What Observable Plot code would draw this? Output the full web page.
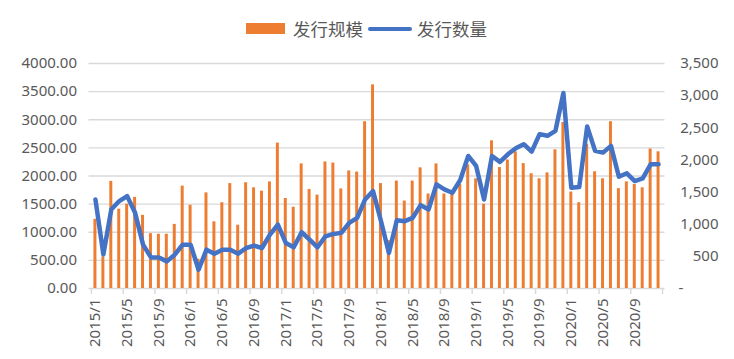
<!DOCTYPE html>
<html><head><meta charset="utf-8">
<script src="https://cdn.jsdelivr.net/npm/d3@7"></script>
<script src="https://cdn.jsdelivr.net/npm/@observablehq/plot@0.6"></script>
<style>
body{margin:0;background:#fff;}
#legend{position:relative;width:734px;height:45px;font-family:"Noto Sans CJK SC","Noto Sans",sans-serif;color:#595959;font-size:17.5px;}
#legend .sw{position:absolute;}
#legend .tx{position:absolute;top:18px;line-height:22px;white-space:nowrap;}
</style></head><body>
<div id="legend">
  <div class="sw" style="left:246px;top:23px;width:39px;height:11px;background:#ED7D31"></div>
  <div class="tx" style="left:293px">发行规模</div>
  <div class="sw" style="left:368px;top:26.5px;width:44px;height:4.5px;border-radius:2px;background:#4472C4"></div>
  <div class="tx" style="left:417px">发行数量</div>
</div>
<div id="chart"></div>
<script>
const years = [2015, 2016, 2017, 2018, 2019, 2020];
const months = [1, 2, 3, 4, 5, 6, 7, 8, 9, 10, 11, 12];
const categories = years.flatMap(y => months.map(m => `${y}/${m}`));

// 发行规模 (left axis)
const issueSize = [
  1230, 560, 1905, 1410, 1500, 1620, 1300, 975, 965, 965, 1140, 1820,
  1480, 520, 1700, 1185, 1525, 1865, 1125, 1880, 1790, 1730, 1895, 2585,
  1600, 1445, 2215, 1760, 1660, 2250, 2230, 1770, 2090, 2070, 2965, 3620,
  1865, 850, 1910, 1555, 1910, 2145, 1680, 2215, 1680, 1700, 1850, 2200,
  1950, 1500, 2625, 2150, 2285, 2430, 2220, 2040, 1950, 2055, 2465, 2950,
  1715, 1525, 2565, 2075, 1950, 2965, 1775, 1895, 1850, 1790, 2480, 2430
];
// 发行数量 (right axis)
const issueCount = [
  1385, 530, 1230, 1360, 1437, 1177, 682, 484, 484, 422, 526, 682,
  682, 292, 604, 542, 604, 604, 542, 630, 667, 630, 838, 995,
  708, 641, 875, 760, 641, 812, 849, 865, 1021, 1099, 1385, 1516,
  1050, 552, 1062, 1047, 1099, 1297, 1229, 1620, 1542, 1490, 1687, 2062,
  1906, 1385, 2062, 1969, 2088, 2182, 2245, 2130, 2401, 2375, 2453, 3041,
  1568, 1578, 2521, 2141, 2114, 2219, 1739, 1792, 1672, 1713, 1932, 1932
];
const leftTicks = [0, 500, 1000, 1500, 2000, 2500, 3000, 3500, 4000];
const rightTicks = [0, 500, 1000, 1500, 2000, 2500, 3000, 3500];
const tickLabels = categories.filter((d, i) => i % 4 === 0);

const leftMax = 4000, rightMax = 3500;
const k = leftMax / rightMax;
const data = categories.map((c, i) => ({date: c, size: issueSize[i], count: issueCount[i]}));
const font = '"Noto Sans","Noto Sans CJK SC",sans-serif';
const gray = "#595959";

const chart = Plot.plot({
  width: 734, height: 314,
  marginLeft: 88.5, marginRight: 69.5, marginTop: 18, marginBottom: 71,
  x: {type: "band", domain: categories, padding: 0.625},
  y: {domain: [0, leftMax]},
  style: {fontFamily: font, fontSize: "15px", color: gray, background: "white"},
  marks: [
    Plot.ruleY(leftTicks, {stroke: "#d9d9d9", strokeWidth: 1.4}),
    Plot.axisX({ticks: tickLabels, tickSize: 6, dx: -4, tickFormat: () => "", stroke: "#d9d9d9", strokeWidth: 1.4, label: null}),
    Plot.axisX({ticks: [categories[categories.length - 1]], tickSize: 6, dx: 4, tickFormat: () => "", stroke: "#d9d9d9", strokeWidth: 1.4, label: null}),
    Plot.barY(data, {x: "date", y: "size", fill: "#ED7D31"}),
    Plot.line(data, {x: "date", y: d => d.count * k, stroke: "#4472C4", strokeWidth: 4.5, strokeLinejoin: "round", strokeLinecap: "round"}),
    Plot.axisY({ticks: leftTicks, tickSize: 0, tickPadding: 12, tickFormat: d => d.toFixed(2), fill: gray, label: null}),
    Plot.axisY({anchor: "right", ticks: rightTicks.map(v => v * k), tickSize: 0, tickPadding: 53.5, textAnchor: "end", fill: gray, label: null,
      tickFormat: v => { const r = Math.round(v / k); return r === 0 ? "-\u00a0\u00a0\u00a0\u00a0\u00a0\u00a0\u00a0\u00a0\u00a0" : d3.format(",")(r); }}),
    Plot.axisX({ticks: tickLabels, tickSize: 0, tickPadding: 10, tickRotate: -90, fill: gray, label: null})
  ]
});
document.getElementById("chart").appendChild(chart);
</script>
</body></html>
